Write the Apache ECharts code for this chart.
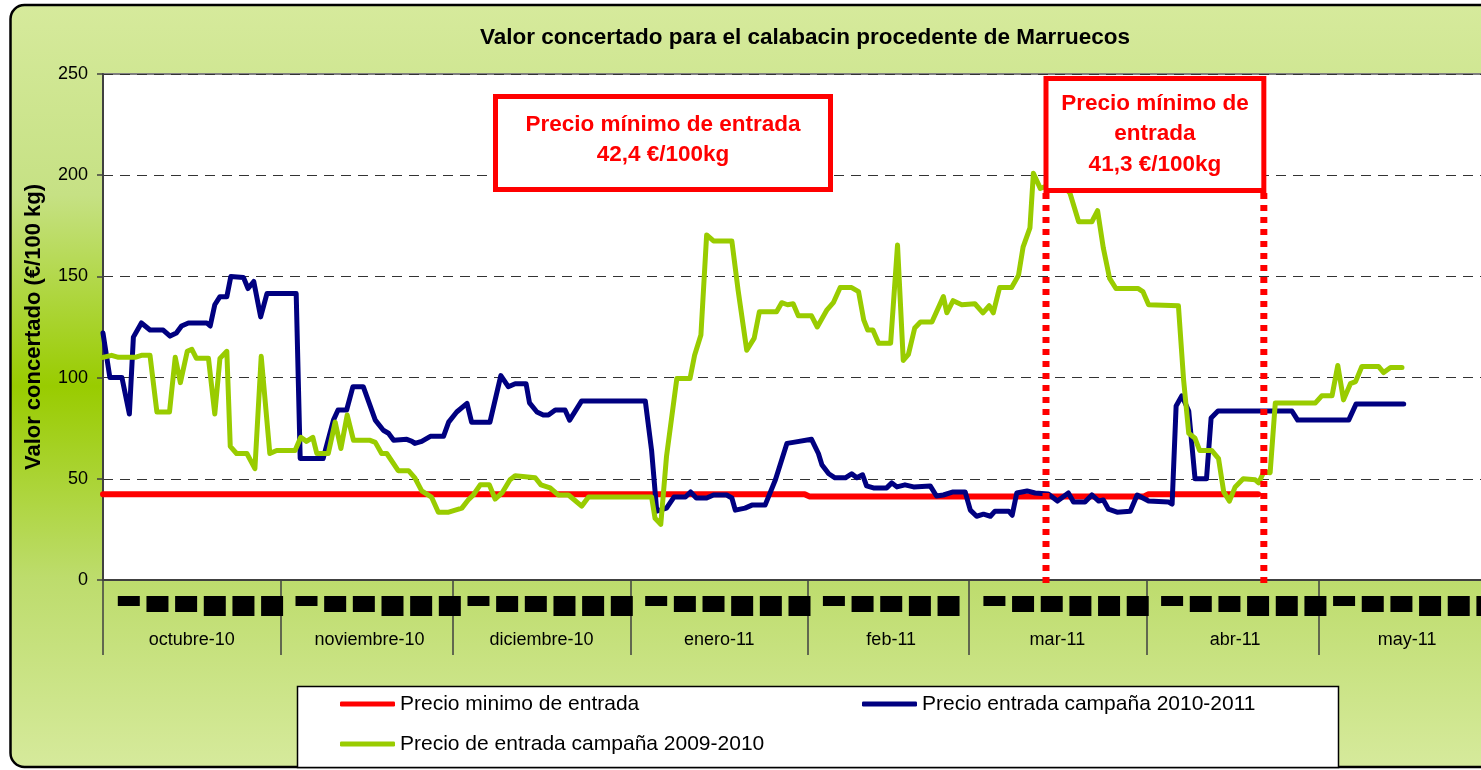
<!DOCTYPE html>
<html>
<head>
<meta charset="utf-8">
<script src="https://cdn.jsdelivr.net/npm/echarts@6/dist/echarts.min.js"></script>
<style>html,body{margin:0;padding:0;background:#fff;overflow:hidden}#c{width:1560px;height:770px}</style>
</head>
<body>
<div id="c"></div>
<script>
// ---------- DATA ----------
const chartTitle = 'Valor concertado para el calabacin procedente de Marruecos';
const yAxisName = 'Valor concertado (€/100 kg)';
const monthNames = ['octubre-10','noviembre-10','diciembre-10','enero-11','feb-11','mar-11','abr-11','may-11'];
const monthDays = [31,30,31,31,28,31,30,31];
const weekLabelDays = [5,10,15,20,25,30];
const seriesNames = ['Precio minimo de entrada','Precio entrada campaña 2010-2011','Precio de entrada campaña 2009-2010'];
const box1Text = ['Precio mínimo de entrada','42,4 €/100kg'];
const box2Text = ['Precio mínimo de','entrada','41,3 €/100kg'];
const markerDays = [164.5, 202.5]; // days since 1-oct-2010

// [day since 1-oct-2010, €/100kg]
const minPrice = [[0,42.4],[122.4,42.4],[123.2,41.3],[181.6,41.3],[182.4,42.4],[201.5,42.4]];
const campaign1011 = [[0,122],[1.2,100],[3.3,100],[4.6,82],[5.3,120],[6.7,127],[8.2,123.5],[10.5,123.5],[11.7,120.5],[12.8,122],[13.7,125.5],[14.9,127],[18.1,127],[18.7,125.5],[19.5,136],[20.4,140],[21.6,140],[22.3,150],[24.5,149.5],[25.3,144],[26.3,147.5],[27.5,130],[28.6,141.5],[33.7,141.5],[34.4,60],[38.4,60],[40.2,79],[41,84],[42.5,84],[43.6,95.5],[45.4,95.5],[47.5,79],[48.9,74],[49.8,72.5],[50.7,69],[53,69.5],[53.9,68.5],[54.4,67.5],[55.6,68.5],[57.1,71],[59.4,71],[60.3,78],[61.7,83],[63.5,87.3],[64.3,78],[67.5,78],[69.4,101],[70.7,95.5],[71.9,97],[73.8,97],[74.4,87.5],[75.7,83],[76.8,81.5],[77.7,81.5],[78.9,84],[80.6,84],[81.4,79],[83.5,88.5],[94.6,88.5],[95.7,64],[96.6,34],[98.3,35.5],[99.6,41],[101.6,41],[102.5,43.5],[103.5,40.5],[105.3,40.5],[106.5,42],[108.8,42],[109.7,40.5],[110.3,34.5],[112,35.5],[113.2,37],[115.5,37],[117.3,49.5],[119.3,67.5],[120.4,68],[123.6,69.5],[124.8,62.5],[125.4,57],[126.6,52.5],[127.7,50.5],[129.5,50.5],[130.6,52.5],[131.5,50.5],[132.5,52],[133.2,46.5],[134.4,45.5],[136.7,45.5],[137.6,48],[138.5,46],[139.9,47],[141.4,46],[144.3,46.5],[145.4,41.5],[146.6,42],[148.3,43.5],[150.4,43.5],[151.3,34.5],[152.4,31.5],[153.6,32.5],[154.8,31.5],[155.6,34],[158,34],[158.6,32],[159.4,43],[161.2,44],[162.6,43],[164.9,42.5],[166.5,39],[168.4,43],[169.3,38.5],[171.3,38.5],[172.5,42],[173.7,39],[174.5,39.5],[175.4,35],[176.9,33.5],[179.2,34],[180.4,42],[182.4,39],[185.9,38.5],[186.5,37.5],[187.2,86],[188.2,91],[189.4,83.5],[190.5,50],[192.5,50],[193.3,80],[194.5,83.5],[207.4,83.5],[208.4,79],[217.3,79],[218.6,87],[226.9,87]];
const campaign0910 = [[0,110],[1.5,111],[2.7,110],[5.6,110],[6.7,111],[8.2,111],[9.4,83],[11.6,83],[12.6,110],[13.5,97.5],[14.7,113],[15.5,114],[16.3,109.5],[18.4,109.5],[19.5,82],[20.4,109.5],[21.6,113],[22.2,66],[23.3,62.5],[25.1,62.5],[26.5,55],[27.6,110.5],[29.1,62.5],[30.3,64],[33.5,64],[34.5,70.5],[35.5,68.5],[36.6,70.5],[37.3,62.5],[39.3,62.5],[40.5,78],[41.5,65],[42.6,81.5],[43.7,69],[46.6,69],[47.5,68],[48.6,62.5],[49.5,62.5],[51.5,54],[53.3,54],[54.4,50.5],[55.6,44],[57.3,41],[58.5,33.5],[60.3,33.5],[62.6,35.5],[63.7,39.5],[64.6,42],[65.8,47],[67.4,47],[68.4,40],[69.6,43],[71,49.5],[71.9,51.5],[75.4,50.5],[76.4,47],[78,45.5],[79.4,42],[81.2,42],[83.5,36.5],[84.7,41],[95.7,41],[96.3,30.5],[97.3,27.5],[98.3,61],[100.1,99.5],[102.4,99.5],[103.2,111],[104.3,121],[105.3,170.5],[106.5,167.5],[109.7,167.5],[110.8,143],[112.3,113.5],[113.6,119.5],[114.5,132.5],[117.5,132.5],[118.4,137],[119.4,136],[120.4,136.5],[121.3,130.5],[123.6,130.5],[124.6,125],[126.3,133.5],[127.4,137],[128.6,144.5],[130.6,144.5],[131.8,142.5],[132.7,128.5],[133.4,123.5],[134.3,123.5],[135.3,117],[137.4,117],[138.6,165.5],[139.6,108.5],[140.5,111.5],[141.6,124.5],[142.6,127.5],[144.6,127.5],[146.6,140],[147.2,132],[148.3,138],[149.8,136],[152.1,136.5],[153.5,132],[154.6,135.5],[155.3,132],[156.4,144.5],[158.5,144.5],[159.7,150.5],[160.5,164.5],[161.7,174],[162.3,201],[163.5,193.5],[165,195],[167.5,195],[168.7,191],[170.2,177],[172.5,177],[173.5,182.5],[174.5,164],[175.6,149],[176.7,144],[180.6,144],[181.4,142.5],[182.4,136],[187.6,135.5],[188.5,99],[189.4,72.5],[190.5,70],[191.3,64],[193.4,64],[194.6,60],[195.5,43.5],[196.5,39],[197.5,46],[198.9,50],[201,49.5],[201.6,48],[202.5,53.5],[203.6,53],[204.5,87.5],[211.5,87.5],[212.6,91],[214.4,91],[215.4,106],[216.4,89],[217.6,97],[218.5,98],[219.6,105.5],[222.5,105.5],[223.4,102.5],[224.6,105],[226.6,105]];

// ---------- DERIVED ----------
const dayCats = [];
const monthStart = new Set();
const monthMid = {};
const weekLabel = {};
let idx = 0;
monthNames.forEach((m, mi) => {
  monthStart.add(idx);
  monthMid[idx + Math.floor(monthDays[mi] / 2)] = m;
  for (let d = 1; d <= monthDays[mi]; d++) {
    dayCats.push(d + '-' + m);
    if (weekLabelDays.includes(d)) weekLabel[idx] = d;
    idx++;
  }
});
const totalDays = dayCats.length;

const FONT = 'Liberation Sans';
const blockStyle = h => ({width: 22, height: h, lineHeight: h, fontSize: 8, backgroundColor: '#000', color: '#000', align: 'center'});
function blockClass(d) { return d <= 5 ? 's' : (d <= 15 ? 'm' : 'l'); }

const chart = echarts.init(document.getElementById('c'), null, {renderer: 'canvas'});
const legendCommon = {
  icon: 'roundRect', itemWidth: 55, itemHeight: 5, padding: 0, itemGap: 0, selectedMode: false,
  textStyle: {fontSize: 21, lineHeight: 22, color: '#000', fontFamily: FONT}
};

const option = {
  animation: false,
  backgroundColor: '#fff',
  textStyle: {fontFamily: FONT},
  grid: {show: true, left: 103, top: 74, width: 1393, height: 506, backgroundColor: '#fff', borderColor: '#808080', borderWidth: 2, containLabel: false},
  xAxis: [
    {type: 'value', min: 0, max: totalDays, position: 'top', show: false},
    {type: 'category', data: dayCats, position: 'bottom', boundaryGap: true,
      axisLine: {show: true, lineStyle: {color: '#404040', width: 2}},
      axisTick: {show: true, length: 75, interval: i => monthStart.has(i), lineStyle: {color: '#404040', width: 1.5}},
      axisLabel: {interval: i => monthMid[i] !== undefined, formatter: (v, i) => monthMid[i] || '', margin: 50,
        fontSize: 18, lineHeight: 20, color: '#000', fontFamily: FONT},
      splitLine: {show: false}},
    {type: 'category', data: dayCats, position: 'bottom', boundaryGap: true,
      axisLine: {show: false}, axisTick: {show: false}, splitLine: {show: false},
      axisLabel: {interval: i => weekLabel[i] !== undefined,
        formatter: (v, i) => '{' + blockClass(weekLabel[i]) + '|' + weekLabel[i] + '}',
        margin: 16, rich: {s: blockStyle(10), m: blockStyle(16), l: blockStyle(20)}}}
  ],
  yAxis: {
    type: 'value', min: 0, max: 250, interval: 50,
    axisLine: {show: true, lineStyle: {color: '#404040', width: 2}},
    axisTick: {show: true, length: 6, lineStyle: {color: '#404040', width: 1.5}},
    axisLabel: {fontSize: 18, color: '#000', margin: 15, fontFamily: FONT},
    splitLine: {show: true, lineStyle: {type: [10, 7], color: '#333', width: 1.2}},
    name: yAxisName, nameLocation: 'middle', nameGap: 58,
    nameTextStyle: {fontSize: 22, fontWeight: 'bold', color: '#000', fontFamily: FONT}
  },
  legend: [
    Object.assign({data: [seriesNames[0]], left: 340, top: 693}, legendCommon),
    Object.assign({data: [seriesNames[1]], left: 862, top: 693}, legendCommon),
    Object.assign({data: [seriesNames[2]], left: 340, top: 733}, legendCommon)
  ],
  series: [
    {name: seriesNames[0], type: 'line', xAxisIndex: 0, data: minPrice, symbol: 'none', z: 2,
      itemStyle: {color: '#ff0000'}, lineStyle: {color: '#ff0000', width: 6, cap: 'round', join: 'round'}},
    {name: seriesNames[1], type: 'line', xAxisIndex: 0, data: campaign1011, symbol: 'none', z: 3,
      itemStyle: {color: '#000080'}, lineStyle: {color: '#000080', width: 5, cap: 'round', join: 'round'}},
    {name: seriesNames[2], type: 'line', xAxisIndex: 0, data: campaign0910, symbol: 'none', z: 4,
      itemStyle: {color: '#99cc00'}, lineStyle: {color: '#99cc00', width: 5, cap: 'round', join: 'round'}}
  ]
};
chart.setOption(option);

// ---------- ANNOTATIONS ----------
const mx = markerDays.map(d => chart.convertToPixel({xAxisIndex: 0}, d));
function txt(x, y, text, size, weight, color, lh, z) {
  return {type: 'text', x: x, y: y, z: z, silent: true,
    style: {text: text, fontSize: size, fontWeight: weight, fill: color, fontFamily: FONT,
      align: 'center', verticalAlign: 'middle', textAlign: 'center', textVerticalAlign: 'middle', lineHeight: lh}};
}
const bgGrad = new echarts.graphic.LinearGradient(0, 0, 0, 1, [
  {offset: 0, color: '#d6ea9c'}, {offset: 0.25, color: '#c6e184'}, {offset: 0.5, color: '#99cc00'},
  {offset: 0.75, color: '#bddc6c'}, {offset: 1, color: '#d6ea9c'}]);
const graphics = [
  {type: 'rect', z: -100, silent: true, shape: {x: 10.5, y: 5, width: 1530, height: 762, r: 14},
    style: {fill: bgGrad, stroke: '#000', lineWidth: 2.5}},
  txt(805, 38, chartTitle, 22.5, 'bold', '#000', 26, 5),
  {type: 'rect', z: 1, silent: true, shape: {x: 297.5, y: 686.5, width: 1041, height: 81},
    style: {fill: '#fff', stroke: '#000', lineWidth: 1.5}},
  {type: 'rect', z: 20, silent: true, shape: {x: 495.5, y: 96.5, width: 335, height: 93},
    style: {fill: '#fff', stroke: '#ff0000', lineWidth: 5}},
  txt(663, 140, box1Text.join('\n'), 22.5, 'bold', '#ff0000', 30, 21),
  {type: 'rect', z: 20, silent: true, shape: {x: mx[0], y: 78.5, width: mx[1] - mx[0], height: 112},
    style: {fill: '#fff', stroke: '#ff0000', lineWidth: 5}},
  txt((mx[0] + mx[1]) / 2, 134, box2Text.join('\n'), 22.5, 'bold', '#ff0000', 30.5, 21)
];
mx.forEach(x => {
  graphics.push({type: 'line', z: 19, silent: true, shape: {x1: x, y1: 193, x2: x, y2: 587},
    style: {stroke: '#ff0000', lineWidth: 7, lineDash: [6, 6]}});
});
chart.setOption({graphic: graphics});
</script>
</body>
</html>
